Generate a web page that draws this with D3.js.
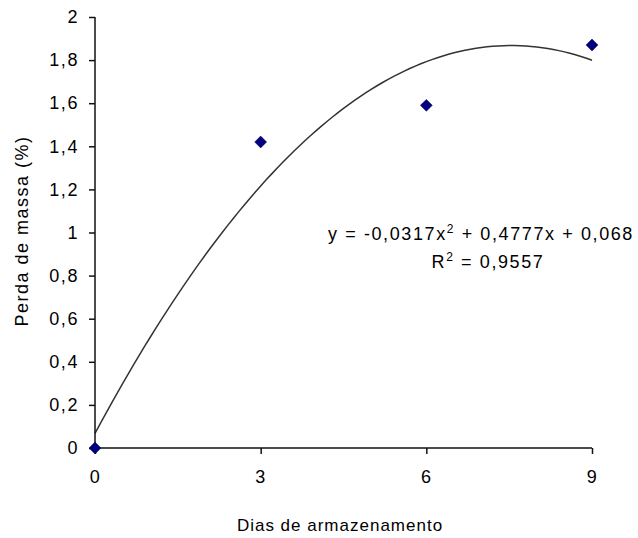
<!DOCTYPE html>
<html>
<head>
<meta charset="utf-8">
<script src="https://cdn.jsdelivr.net/npm/d3@7"></script>
<style>
  body { margin: 0; background: #fff; }
  text { font-family: "Liberation Sans", Arial, sans-serif; fill: #000; }
</style>
</head>
<body>
<div id="chart"></div>
<script>
/*global d3*/

var dias = [0, 3, 6, 9];
var perda = [0, 1.42, 1.59, 1.87];
var xTicks = [0, 3, 6, 9];
var yTicks = [0, 0.2, 0.4, 0.6, 0.8, 1, 1.2, 1.4, 1.6, 1.8, 2];
var coef = [0.068, 0.4777, -0.0317];
var eqLines = ["y = -0,0317x", "R", "= 0,9557"];

(function () {
  "use strict";
  var width = 638,
    height = 538,
    left = 95,
    right = 592,
    top = 17,
    bottom = 448,

    x = d3.scaleLinear().domain([0, 9]).range([left, right]),
    y = d3.scaleLinear().domain([0, 2]).range([bottom, top]),
    fmt = function (d) { return String(d).replace(".", ","); },

    svg = d3.select("#chart").append("svg")
      .attr("width", width)
      .attr("height", height);

  // trend line
  var curve = d3.range(0, 9.001, 0.1).map(function (t) {
    return [t, coef[0] + coef[1] * t + coef[2] * t * t];
  });
  svg.append("path")
    .datum(curve)
    .attr("fill", "none")
    .attr("stroke", "#333")
    .attr("stroke-width", 1.5)
    .attr("d", d3.line()
      .x(function (d) { return x(d[0]); })
      .y(function (d) { return y(d[1]); }));

  // axes
  var yAxis = svg.append("g")
    .attr("transform", "translate(" + left + ",0)")
    .call(d3.axisLeft(y).tickValues(yTicks).tickSize(6).tickPadding(10).tickFormat(fmt));
  var xAxis = svg.append("g")
    .attr("transform", "translate(0," + bottom + ")")
    .call(d3.axisBottom(x).tickValues(xTicks).tickSize(6).tickPadding(16).tickFormat(fmt));

  [xAxis, yAxis].forEach(function (g) {
    g.select(".domain").attr("stroke", "#111").attr("stroke-width", 1.5);
    g.selectAll(".tick line").attr("stroke", "#111").attr("stroke-width", 1.5);
    g.selectAll(".tick text")
      .attr("font-size", 18)
      .style("letter-spacing", "1.6px")
      .attr("fill", "#000");
  });
  xAxis.select(".domain").attr("d", "M" + left + ",0H" + right);
  yAxis.select(".domain").attr("d", "M0," + bottom + "V" + top);

  // markers
  svg.selectAll("path.pt")
    .data(dias)
    .enter()
    .append("path")
    .attr("class", "pt")
    .attr("d", d3.symbol().type(d3.symbolDiamond2).size(90))
    .attr("transform", function (d, i) {
      return "translate(" + x(d) + "," + y(perda[i]) + ")";
    })
    .attr("fill", "#000080")
    .attr("stroke", "#000040")
    .attr("stroke-width", 0.5);

  // titles
  svg.append("text")
    .attr("x", 340)
    .attr("y", 531)
    .attr("text-anchor", "middle")
    .attr("font-size", 17)
    .style("letter-spacing", "1px")
    .text("Dias de armazenamento");

  svg.append("text")
    .attr("transform", "translate(28,231) rotate(-90)")
    .attr("text-anchor", "middle")
    .attr("font-size", 18)
    .style("letter-spacing", "1.5px")
    .text("Perda de massa (%)");

  // equation
  var eq = svg.append("text")
    .attr("x", 481)
    .attr("y", 240)
    .attr("text-anchor", "middle")
    .attr("font-size", 18)
    .style("letter-spacing", "1.6px");
  eq.append("tspan").text(eqLines[0]);
  eq.append("tspan").attr("dy", -7).attr("font-size", 12).text("2");
  eq.append("tspan").attr("dy", 7).text(" + 0,4777x + 0,068");

  var r2 = svg.append("text")
    .attr("x", 488)
    .attr("y", 268)
    .attr("text-anchor", "middle")
    .attr("font-size", 18)
    .style("letter-spacing", "1.6px");
  r2.append("tspan").text(eqLines[1]);
  r2.append("tspan").attr("dy", -7).attr("font-size", 12).text("2");
  r2.append("tspan").attr("dy", 7).text(" " + eqLines[2]);
}());
</script>
</body>
</html>
